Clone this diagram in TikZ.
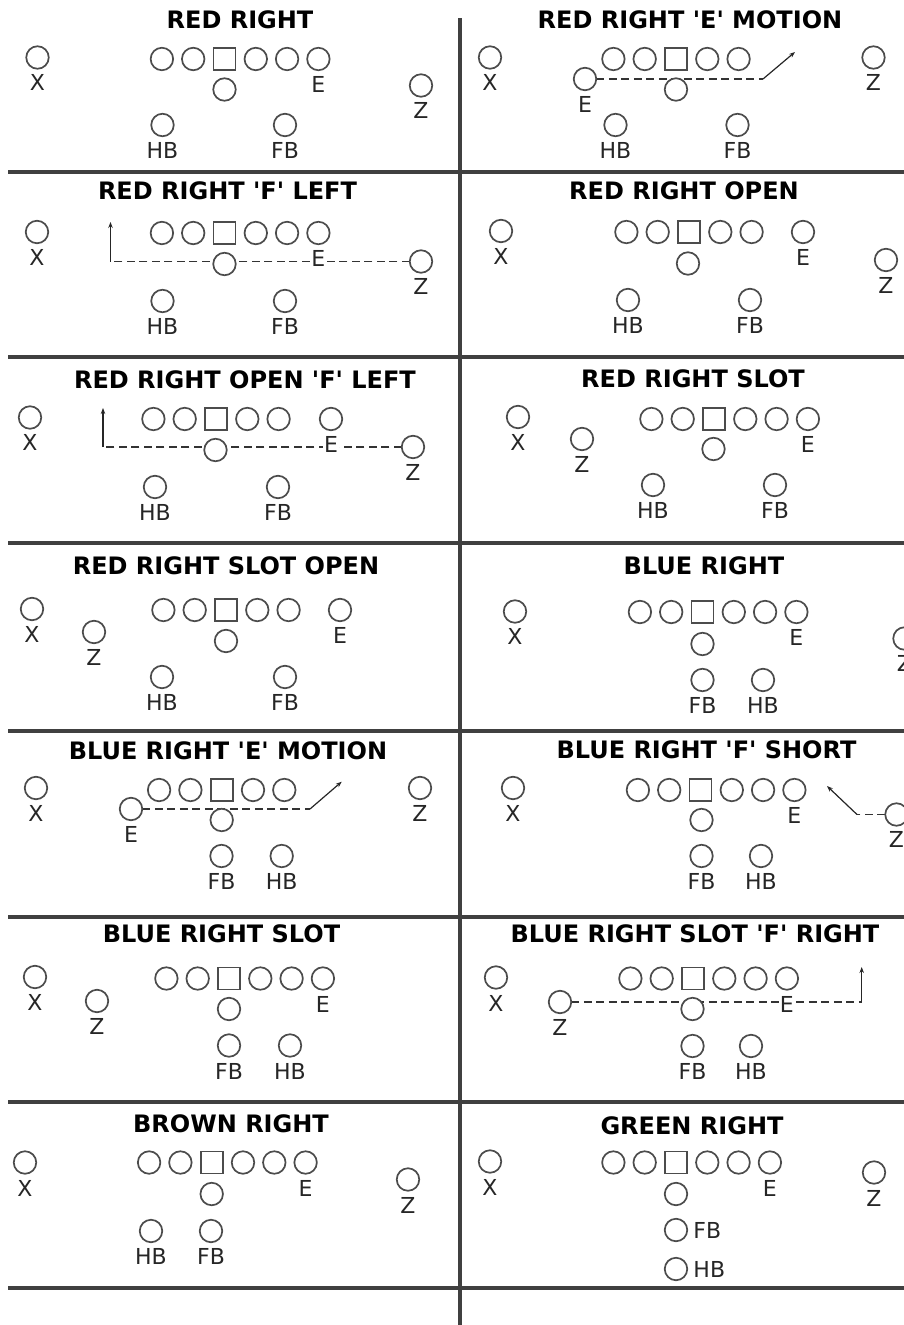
\documentclass[tikz,border=0pt]{standalone}
\usepackage{fontspec}
\usetikzlibrary{positioning,arrows.meta}
\newfontfamily\plfont{DejaVu Sans}
\newcommand\pltitlefont{\plfont\bfseries\fontsize{24}{28}\selectfont}
\newcommand\pllabelfont{\plfont\fontsize{22}{26}\selectfont}
\pgfdeclarelayer{back}
\pgfsetlayers{back,main}

\tikzset{
  player/.style={circle, draw=black!70, line width=1.7pt, fill=white,
    minimum size=22.5pt, inner sep=0pt, outer sep=0pt},
  snapbox/.style={rectangle, draw=black!70, line width=1.7pt, fill=white,
    minimum size=22pt, inner sep=0pt, outer sep=0pt},
  tag/.style={font=\pllabelfont, text=black!85, fill=white, inner sep=1pt},
  heading/.style={font=\pltitlefont, inner sep=0pt},
  divider/.style={line width=3.5pt, black!75},
  motion/.style={black!80, line width=1.3pt, dash pattern=on 8pt off 4.5pt},
  route/.style={black!85, line width=1.2pt, -{Stealth[length=6pt,width=4.5pt]}}
}

\begin{document}
\begin{tikzpicture}[x=1pt, y=-1pt]
  \useasboundingbox (0,0) rectangle (904,1325);

  % red right
  \node[heading] (rr) at (240,20) {RED RIGHT};
  \node[snapbox] (rr-c) at (224.5,59) {};
  \foreach \k in {-2,-1,1,2,3}
    \node[player] (rr-\k) at (224.5+31.3*\k,59) {};
  \node[player] (rr-qb) at (224.5,89.5) {};
  \node[player] (rr-x) at (37.5,57.5) {};
  \node[tag, below=5pt of rr-x] (rr-xl) {X};
  \node[tag, below=5pt of rr-3] (rr-el) {E};
  \node[player] (rr-z) at (421,85.5) {};
  \node[tag, below=5pt of rr-z] (rr-zl) {Z};
  \node[player] (rr-hb) at (162.5,125) {};
  \node[tag, below=5pt of rr-hb] (rr-hbl) {HB};
  \node[player] (rr-fb) at (285,125) {};
  \node[tag, below=5pt of rr-fb] (rr-fbl) {FB};

  % red right 'e' motion
  \node[heading] (re) at (690,20) {RED RIGHT 'E' MOTION};
  \node[snapbox] (re-c) at (676,59) {};
  \foreach \k in {-2,-1,1,2}
    \node[player] (re-\k) at (676+31.3*\k,59) {};
  \node[player] (re-qb) at (676,89.5) {};
  \node[player] (re-x) at (490,57.5) {};
  \node[tag, below=5pt of re-x] (re-xl) {X};
  \node[player] (re-e) at (585,79) {};
  \node[tag, below=5pt of re-e] (re-el) {E};
  \node[player] (re-z) at (873.5,57.5) {};
  \node[tag, below=5pt of re-z] (re-zl) {Z};
  \node[player] (re-hb) at (615.5,125) {};
  \node[tag, below=5pt of re-hb] (re-hbl) {HB};
  \node[player] (re-fb) at (737.5,125) {};
  \node[tag, below=5pt of re-fb] (re-fbl) {FB};
  \coordinate (re-turn) at (763,79);
  \coordinate (re-tip) at (795,52);

  % red right 'f' left
  \node[heading] (rf) at (227.5,191) {RED RIGHT 'F' LEFT};
  \node[snapbox] (rf-c) at (224.5,233) {};
  \foreach \k in {-2,-1,1,2,3}
    \node[player] (rf-\k) at (224.5+31.3*\k,233) {};
  \node[player] (rf-qb) at (224.5,264) {};
  \node[player] (rf-x) at (37,232) {};
  \node[tag, below=5pt of rf-x] (rf-xl) {X};
  \node[tag, below=5pt of rf-3] (rf-el) {E};
  \node[player] (rf-z) at (421,261.5) {};
  \node[tag, below=5pt of rf-z] (rf-zl) {Z};
  \node[player] (rf-hb) at (162.5,301) {};
  \node[tag, below=5pt of rf-hb] (rf-hbl) {HB};
  \node[player] (rf-fb) at (285,301) {};
  \node[tag, below=5pt of rf-fb] (rf-fbl) {FB};
  \coordinate (rf-turn) at (110.5,261.5);
  \coordinate (rf-tip) at (110.5,222);

  % red right open
  \node[heading] (ro) at (684,191) {RED RIGHT OPEN};
  \node[snapbox] (ro-c) at (689,232) {};
  \foreach \k in {-2,-1,1,2}
    \node[player] (ro-\k) at (689+31.3*\k,232) {};
  \node[player] (ro-qb) at (688,263.5) {};
  \node[player] (ro-x) at (501,231) {};
  \node[tag, below=5pt of ro-x] (ro-xl) {X};
  \node[player] (ro-e) at (803,232) {};
  \node[tag, below=5pt of ro-e] (ro-el) {E};
  \node[player] (ro-z) at (886,260) {};
  \node[tag, below=5pt of ro-z] (ro-zl) {Z};
  \node[player] (ro-hb) at (628,300) {};
  \node[tag, below=5pt of ro-hb] (ro-hbl) {HB};
  \node[player] (ro-fb) at (750,300) {};
  \node[tag, below=5pt of ro-fb] (ro-fbl) {FB};

  % red right open 'f' left
  \node[heading] (rof) at (245,380) {RED RIGHT OPEN 'F' LEFT};
  \node[snapbox] (rof-c) at (216,419) {};
  \foreach \k in {-2,-1,1,2}
    \node[player] (rof-\k) at (216+31.3*\k,419) {};
  \node[player] (rof-qb) at (215.5,450) {};
  \node[player] (rof-x) at (30,417.5) {};
  \node[tag, below=5pt of rof-x] (rof-xl) {X};
  \node[player] (rof-e) at (331,419) {};
  \node[tag, below=5pt of rof-e] (rof-el) {E};
  \node[player] (rof-z) at (413,447) {};
  \node[tag, below=5pt of rof-z] (rof-zl) {Z};
  \node[player] (rof-hb) at (155,487) {};
  \node[tag, below=5pt of rof-hb] (rof-hbl) {HB};
  \node[player] (rof-fb) at (278,487) {};
  \node[tag, below=5pt of rof-fb] (rof-fbl) {FB};
  \coordinate (rof-turn) at (103,447);
  \coordinate (rof-tip) at (103,408);

  % red right slot
  \node[heading] (rs) at (693,379) {RED RIGHT SLOT};
  \node[snapbox] (rs-c) at (714,419) {};
  \foreach \k in {-2,-1,1,2,3}
    \node[player] (rs-\k) at (714+31.3*\k,419) {};
  \node[player] (rs-qb) at (713.5,449) {};
  \node[player] (rs-x) at (518,417) {};
  \node[tag, below=5pt of rs-x] (rs-xl) {X};
  \node[tag, below=5pt of rs-3] (rs-el) {E};
  \node[player] (rs-z) at (582,439) {};
  \node[tag, below=5pt of rs-z] (rs-zl) {Z};
  \node[player] (rs-hb) at (653,485) {};
  \node[tag, below=5pt of rs-hb] (rs-hbl) {HB};
  \node[player] (rs-fb) at (775,485) {};
  \node[tag, below=5pt of rs-fb] (rs-fbl) {FB};

  % red right slot open
  \node[heading] (rso) at (226,566) {RED RIGHT SLOT OPEN};
  \node[snapbox] (rso-c) at (226,610) {};
  \foreach \k in {-2,-1,1,2}
    \node[player] (rso-\k) at (226+31.3*\k,610) {};
  \node[player] (rso-qb) at (226,641) {};
  \node[player] (rso-x) at (32,609) {};
  \node[tag, below=5pt of rso-x] (rso-xl) {X};
  \node[player] (rso-e) at (340,610) {};
  \node[tag, below=5pt of rso-e] (rso-el) {E};
  \node[player] (rso-z) at (94,632) {};
  \node[tag, below=5pt of rso-z] (rso-zl) {Z};
  \node[player] (rso-hb) at (162,677) {};
  \node[tag, below=5pt of rso-hb] (rso-hbl) {HB};
  \node[player] (rso-fb) at (285,677) {};
  \node[tag, below=5pt of rso-fb] (rso-fbl) {FB};

  % blue right
  \node[heading] (br) at (704,566) {BLUE RIGHT};
  \node[snapbox] (br-c) at (702.5,612) {};
  \foreach \k in {-2,-1,1,2,3}
    \node[player] (br-\k) at (702.5+31.3*\k,612) {};
  \node[player] (br-qb) at (702.5,644) {};
  \node[player] (br-x) at (515,611.5) {};
  \node[tag, below=5pt of br-x] (br-xl) {X};
  \node[tag, below=5pt of br-3] (br-el) {E};
  \node[player] (br-z) at (904.5,638.5) {};
  \node[tag, below=5pt of br-z] (br-zl) {Z};
  \node[player] (br-fb) at (702.5,680) {};
  \node[tag, below=5pt of br-fb] (br-fbl) {FB};
  \node[player] (br-hb) at (763,680) {};
  \node[tag, below=5pt of br-hb] (br-hbl) {HB};

  % blue right 'e' motion
  \node[heading] (be) at (228,751) {BLUE RIGHT 'E' MOTION};
  \node[snapbox] (be-c) at (221.7,790) {};
  \foreach \k in {-2,-1,1,2}
    \node[player] (be-\k) at (221.7+31.3*\k,790) {};
  \node[player] (be-qb) at (221.7,820) {};
  \node[player] (be-x) at (36,788) {};
  \node[tag, below=5pt of be-x] (be-xl) {X};
  \node[player] (be-e) at (131,809) {};
  \node[tag, below=5pt of be-e] (be-el) {E};
  \node[player] (be-z) at (420,788) {};
  \node[tag, below=5pt of be-z] (be-zl) {Z};
  \node[player] (be-fb) at (221.5,856) {};
  \node[tag, below=5pt of be-fb] (be-fbl) {FB};
  \node[player] (be-hb) at (281.7,856) {};
  \node[tag, below=5pt of be-hb] (be-hbl) {HB};
  \coordinate (be-turn) at (310,809);
  \coordinate (be-tip) at (341.7,781.7);

  % blue right 'f' short
  \node[heading] (bf) at (706.5,750) {BLUE RIGHT 'F' SHORT};
  \node[snapbox] (bf-c) at (700.5,790) {};
  \foreach \k in {-2,-1,1,2,3}
    \node[player] (bf-\k) at (700.5+31.3*\k,790) {};
  \node[player] (bf-qb) at (701.5,820) {};
  \node[player] (bf-x) at (513,788) {};
  \node[tag, below=5pt of bf-x] (bf-xl) {X};
  \node[tag, below=5pt of bf-3] (bf-el) {E};
  \node[player] (bf-z) at (896.5,814.5) {};
  \node[tag, below=5pt of bf-z] (bf-zl) {Z};
  \node[player] (bf-fb) at (701.5,856) {};
  \node[tag, below=5pt of bf-fb] (bf-fbl) {FB};
  \node[player] (bf-hb) at (761,856) {};
  \node[tag, below=5pt of bf-hb] (bf-hbl) {HB};
  \coordinate (bf-turn) at (857,814.5);
  \coordinate (bf-tip) at (827,786);

  % blue right slot
  \node[heading] (bs) at (221.5,934) {BLUE RIGHT SLOT};
  \node[snapbox] (bs-c) at (229,978.5) {};
  \foreach \k in {-2,-1,1,2,3}
    \node[player] (bs-\k) at (229+31.3*\k,978.5) {};
  \node[player] (bs-qb) at (229,1009) {};
  \node[player] (bs-x) at (35,977) {};
  \node[tag, below=5pt of bs-x] (bs-xl) {X};
  \node[tag, below=5pt of bs-3] (bs-el) {E};
  \node[player] (bs-z) at (97,1001) {};
  \node[tag, below=5pt of bs-z] (bs-zl) {Z};
  \node[player] (bs-fb) at (229,1045.5) {};
  \node[tag, below=5pt of bs-fb] (bs-fbl) {FB};
  \node[player] (bs-hb) at (290,1045.5) {};
  \node[tag, below=5pt of bs-hb] (bs-hbl) {HB};

  % blue right slot 'f' right
  \node[heading] (bsf) at (695,934) {BLUE RIGHT SLOT 'F' RIGHT};
  \node[snapbox] (bsf-c) at (693,978.5) {};
  \foreach \k in {-2,-1,1,2,3}
    \node[player] (bsf-\k) at (693+31.3*\k,978.5) {};
  \node[player] (bsf-qb) at (692.5,1009) {};
  \node[player] (bsf-x) at (496,977.5) {};
  \node[tag, below=5pt of bsf-x] (bsf-xl) {X};
  \node[tag, below=5pt of bsf-3] (bsf-el) {E};
  \node[player] (bsf-z) at (560,1002) {};
  \node[tag, below=5pt of bsf-z] (bsf-zl) {Z};
  \node[player] (bsf-fb) at (692.5,1046) {};
  \node[tag, below=5pt of bsf-fb] (bsf-fbl) {FB};
  \node[player] (bsf-hb) at (751,1046) {};
  \node[tag, below=5pt of bsf-hb] (bsf-hbl) {HB};
  \coordinate (bsf-turn) at (861.7,1002);
  \coordinate (bsf-tip) at (861.7,967);

  % brown right
  \node[heading] (bw) at (231,1124) {BROWN RIGHT};
  \node[snapbox] (bw-c) at (211.7,1162.5) {};
  \foreach \k in {-2,-1,1,2,3}
    \node[player] (bw-\k) at (211.7+31.3*\k,1162.5) {};
  \node[player] (bw-qb) at (211.7,1194) {};
  \node[player] (bw-x) at (25,1162.5) {};
  \node[tag, below=5pt of bw-x] (bw-xl) {X};
  \node[tag, below=5pt of bw-3] (bw-el) {E};
  \node[player] (bw-z) at (408,1179.5) {};
  \node[tag, below=5pt of bw-z] (bw-zl) {Z};
  \node[player] (bw-hb) at (151,1231) {};
  \node[tag, below=5pt of bw-hb] (bw-hbl) {HB};
  \node[player] (bw-fb) at (211,1231) {};
  \node[tag, below=5pt of bw-fb] (bw-fbl) {FB};

  % green right
  \node[heading] (gr) at (692,1126) {GREEN RIGHT};
  \node[snapbox] (gr-c) at (676,1162.5) {};
  \foreach \k in {-2,-1,1,2,3}
    \node[player] (gr-\k) at (676+31.3*\k,1162.5) {};
  \node[player] (gr-qb) at (676,1194) {};
  \node[player] (gr-x) at (490,1161.5) {};
  \node[tag, below=5pt of gr-x] (gr-xl) {X};
  \node[tag, below=5pt of gr-3] (gr-el) {E};
  \node[player] (gr-z) at (874,1172.5) {};
  \node[tag, below=5pt of gr-z] (gr-zl) {Z};
  \node[player] (gr-fb) at (676,1230) {};
  \node[tag, right=5pt of gr-fb] (gr-fbl) {FB};
  \node[player] (gr-hb) at (676,1269) {};
  \node[tag, right=5pt of gr-hb] (gr-hbl) {HB};

  \begin{pgfonlayer}{back}
    % field dividers
    \foreach \yy in {172,357,543,731,917,1102,1288}
      \draw[divider] (8,\yy) -- (904,\yy);
    \draw[divider] (460,18) -- (460,1325);

    % motions
    \draw[motion] (re-e.east) -- (re-turn);
    \draw[route] (re-turn) -- (re-tip);
    \draw[motion] (rf-z.west) -- (rf-turn);
    \draw[route] (rf-turn) -- (rf-tip);
    \draw[motion] (rof-z.west) -- (rof-turn);
    \draw[route] (rof-turn) -- (rof-tip);
    \draw[motion] (be-e.east) -- (be-turn);
    \draw[route] (be-turn) -- (be-tip);
    \draw[motion] (bf-z.west) -- (bf-turn);
    \draw[route] (bf-turn) -- (bf-tip);
    \draw[motion] (bsf-z.east) -- (bsf-turn);
    \draw[route] (bsf-turn) -- (bsf-tip);
  \end{pgfonlayer}

\end{tikzpicture}
\end{document}
